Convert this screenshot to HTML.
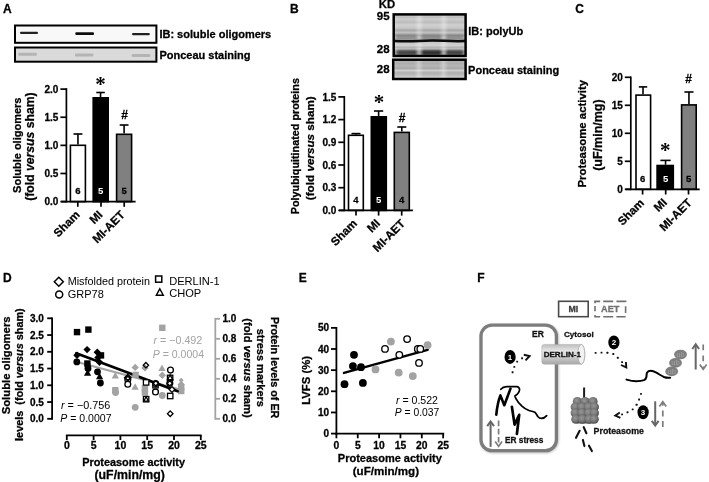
<!DOCTYPE html>
<html lang="en"><head><meta charset="utf-8"><title>Figure</title>
<style>html,body{margin:0;padding:0;background:#fff;}body{width:709px;height:482px;overflow:hidden;}svg{display:block;font-family:"Liberation Sans", Arial, sans-serif;}</style>
</head><body>
<svg width="709" height="482" viewBox="0 0 709 482">
<defs>
<filter id="b1" x="-20%" y="-100%" width="140%" height="300%"><feGaussianBlur stdDeviation="0.7 0.5"/></filter>
<filter id="b2" x="-20%" y="-100%" width="140%" height="300%"><feGaussianBlur stdDeviation="1.2 0.8"/></filter>
<filter id="sh" x="-10%" y="-10%" width="120%" height="120%"><feGaussianBlur stdDeviation="0.9"/></filter>
<filter id="soft" x="-5%" y="-5%" width="110%" height="110%"><feGaussianBlur stdDeviation="0.35"/></filter>
<linearGradient id="cyl" x1="0" y1="0" x2="0" y2="1"><stop offset="0" stop-color="#bcbcbc"/><stop offset="0.3" stop-color="#e4e4e4"/><stop offset="0.6" stop-color="#d2d2d2"/><stop offset="1" stop-color="#a6a6a6"/></linearGradient>
<radialGradient id="sph" cx="0.42" cy="0.38" r="0.62"><stop offset="0" stop-color="#969696"/><stop offset="0.55" stop-color="#7a7a7a"/><stop offset="1" stop-color="#4c4c4c"/></radialGradient>
<linearGradient id="lanes" x1="0" y1="0" x2="1" y2="0">
<stop offset="0" stop-color="#fff" stop-opacity="0.15"/><stop offset="0.06" stop-color="#fff" stop-opacity="0"/>
<stop offset="0.29" stop-color="#fff" stop-opacity="0"/><stop offset="0.355" stop-color="#fff" stop-opacity="0.33"/><stop offset="0.42" stop-color="#fff" stop-opacity="0"/>
<stop offset="0.63" stop-color="#fff" stop-opacity="0"/><stop offset="0.695" stop-color="#fff" stop-opacity="0.33"/><stop offset="0.76" stop-color="#fff" stop-opacity="0"/>
<stop offset="0.95" stop-color="#fff" stop-opacity="0"/><stop offset="1" stop-color="#fff" stop-opacity="0.15"/>
</linearGradient>
<linearGradient id="blotB1" x1="0" y1="0" x2="0" y2="1">
<stop offset="0" stop-color="#cfcfcf"/>
<stop offset="0.07" stop-color="#bebebe"/>
<stop offset="0.11" stop-color="#cecece"/>
<stop offset="0.19" stop-color="#bcbcbc"/>
<stop offset="0.25" stop-color="#d0d0d0"/>
<stop offset="0.33" stop-color="#c6c6c6"/>
<stop offset="0.38" stop-color="#a6a6a6"/>
<stop offset="0.44" stop-color="#c2c2c2"/>
<stop offset="0.50" stop-color="#8e8e8e"/>
<stop offset="0.55" stop-color="#b4b4b4"/>
<stop offset="0.60" stop-color="#a0a0a0"/>
<stop offset="0.68" stop-color="#cacaca"/>
<stop offset="0.75" stop-color="#d0d0d0"/>
<stop offset="0.79" stop-color="#b0b0b0"/>
<stop offset="0.83" stop-color="#c8c8c8"/>
<stop offset="0.88" stop-color="#8a8a8a"/>
<stop offset="0.97" stop-color="#8c8c8c"/>
<stop offset="1" stop-color="#a8a8a8"/>
</linearGradient>
<linearGradient id="blotB2" x1="0" y1="0" x2="0" y2="1">
<stop offset="0" stop-color="#b8b8b8"/>
<stop offset="0.18" stop-color="#acacac"/>
<stop offset="0.32" stop-color="#b6b6b6"/>
<stop offset="0.45" stop-color="#a8a8a8"/>
<stop offset="0.56" stop-color="#cecece"/>
<stop offset="0.66" stop-color="#b2b2b2"/>
<stop offset="0.80" stop-color="#b8b8b8"/>
<stop offset="0.90" stop-color="#d0d0d0"/>
<stop offset="1" stop-color="#c4c4c4"/>
</linearGradient>
</defs>
<rect width="709" height="482" fill="#fff"/>
<text x="3" y="12.9" font-size="12" font-weight="bold" text-anchor="start" fill="#000" stroke="#000" stroke-width="0.28">A</text>
<text x="290.1" y="12.9" font-size="12" font-weight="bold" text-anchor="start" fill="#000" stroke="#000" stroke-width="0.28">B</text>
<text x="575.2" y="12.9" font-size="12" font-weight="bold" text-anchor="start" fill="#000" stroke="#000" stroke-width="0.28">C</text>
<text x="3.1" y="282" font-size="12" font-weight="bold" text-anchor="start" fill="#000" stroke="#000" stroke-width="0.28">D</text>
<text x="298.8" y="282" font-size="12" font-weight="bold" text-anchor="start" fill="#000" stroke="#000" stroke-width="0.28">E</text>
<text x="477.2" y="281.9" font-size="12" font-weight="bold" text-anchor="start" fill="#000" stroke="#000" stroke-width="0.28">F</text>
<rect x="15" y="25.5" width="141.4" height="17.3" fill="#f8f8f8" stroke="#000" stroke-width="2"/>
<rect x="15" y="47.5" width="141.4" height="14.2" fill="#dadada" stroke="#000" stroke-width="2"/>
<rect x="20" y="31.799999999999997" width="18" height="2.2" rx="1" fill="#222" filter="url(#b1)"/>
<rect x="75.3" y="32.2" width="18.700000000000003" height="2.8" rx="1" fill="#111" filter="url(#b1)"/>
<rect x="132" y="33.0" width="17.80000000000001" height="2.2" rx="1" fill="#222" filter="url(#b1)"/>
<rect x="18.3" y="52.7" width="18.599999999999998" height="3" rx="1" fill="#b4b4b4" filter="url(#b1)"/>
<rect x="75" y="53.5" width="18.400000000000006" height="3" rx="1" fill="#b4b4b4" filter="url(#b1)"/>
<rect x="131.7" y="54.0" width="18.600000000000023" height="3" rx="1" fill="#b4b4b4" filter="url(#b1)"/>
<text x="159.4" y="38.1" font-size="11" font-weight="bold" text-anchor="start" fill="#000" stroke="#000" stroke-width="0.28">IB: soluble oligomers</text>
<text x="159.4" y="59.3" font-size="11" font-weight="bold" text-anchor="start" fill="#000" stroke="#000" stroke-width="0.28">Ponceau staining</text>
<line x1="77.95" y1="134" x2="77.95" y2="144.5" stroke="#000" stroke-width="1.6"/>
<line x1="73.5" y1="134" x2="82.4" y2="134" stroke="#000" stroke-width="1.6"/>
<rect x="70.39999999999999" y="145.3" width="15.000000000000009" height="56.3" fill="#fff" stroke="#000" stroke-width="1.6"/>
<line x1="100.55" y1="92.5" x2="100.55" y2="97" stroke="#000" stroke-width="1.6"/>
<line x1="96.3" y1="92.5" x2="104.8" y2="92.5" stroke="#000" stroke-width="1.6"/>
<rect x="93.2" y="97.8" width="14.999999999999995" height="103.8" fill="#000" stroke="#000" stroke-width="1.6"/>
<line x1="124.1" y1="125" x2="124.1" y2="133.5" stroke="#000" stroke-width="1.6"/>
<line x1="119.7" y1="125" x2="128.5" y2="125" stroke="#000" stroke-width="1.6"/>
<rect x="116.6" y="134.3" width="15.000000000000009" height="67.3" fill="#808080" stroke="#000" stroke-width="1.6"/>
<line x1="66.4" y1="88.15" x2="66.4" y2="202.45" stroke="#000" stroke-width="1.7"/>
<line x1="61.05000000000001" y1="201.6" x2="135.6" y2="201.6" stroke="#000" stroke-width="1.7"/>
<line x1="60.400000000000006" y1="201.6" x2="66.4" y2="201.6" stroke="#000" stroke-width="1.7"/>
<text x="58.400000000000006" y="205.2" font-size="10" font-weight="bold" text-anchor="end" fill="#000" stroke="#000" stroke-width="0.28">0.0</text>
<line x1="60.400000000000006" y1="173.48" x2="66.4" y2="173.48" stroke="#000" stroke-width="1.7"/>
<text x="58.400000000000006" y="177.07999999999998" font-size="10" font-weight="bold" text-anchor="end" fill="#000" stroke="#000" stroke-width="0.28">0.5</text>
<line x1="60.400000000000006" y1="145.35999999999999" x2="66.4" y2="145.35999999999999" stroke="#000" stroke-width="1.7"/>
<text x="58.400000000000006" y="148.95999999999998" font-size="10" font-weight="bold" text-anchor="end" fill="#000" stroke="#000" stroke-width="0.28">1.0</text>
<line x1="60.400000000000006" y1="117.24" x2="66.4" y2="117.24" stroke="#000" stroke-width="1.7"/>
<text x="58.400000000000006" y="120.83999999999999" font-size="10" font-weight="bold" text-anchor="end" fill="#000" stroke="#000" stroke-width="0.28">1.5</text>
<line x1="60.400000000000006" y1="89.11999999999999" x2="66.4" y2="89.11999999999999" stroke="#000" stroke-width="1.7"/>
<text x="58.400000000000006" y="92.71999999999998" font-size="10" font-weight="bold" text-anchor="end" fill="#000" stroke="#000" stroke-width="0.28">2.0</text>
<line x1="77.8" y1="201.6" x2="77.8" y2="206.79999999999998" stroke="#000" stroke-width="1.7"/>
<line x1="101" y1="201.6" x2="101" y2="206.79999999999998" stroke="#000" stroke-width="1.7"/>
<line x1="124.2" y1="201.6" x2="124.2" y2="206.79999999999998" stroke="#000" stroke-width="1.7"/>
<text x="80.6" y="215.4" font-size="11.6" font-weight="bold" text-anchor="end" fill="#000" stroke="#000" stroke-width="0.28" transform="rotate(-45 80.6 215.4)">Sham</text>
<text x="103.3" y="215.4" font-size="11.6" font-weight="bold" text-anchor="end" fill="#000" stroke="#000" stroke-width="0.28" transform="rotate(-45 103.3 215.4)">MI</text>
<text x="125.5" y="215.6" font-size="11.6" font-weight="bold" text-anchor="end" fill="#000" stroke="#000" stroke-width="0.28" transform="rotate(-45 125.5 215.6)">MI-AET</text>
<text x="77.8" y="194.3" font-size="9.5" font-weight="bold" text-anchor="middle" fill="#000" stroke="#000" stroke-width="0.28">6</text>
<text x="100.7" y="194.3" font-size="9.5" font-weight="bold" text-anchor="middle" fill="#fff">5</text>
<text x="124.2" y="194.3" font-size="9.5" font-weight="bold" text-anchor="middle" fill="#000" stroke="#000" stroke-width="0.28">5</text>
<text x="100.6" y="90.8" font-family="'Liberation Serif', serif" font-size="21" font-weight="bold" text-anchor="middle" fill="#000">*</text>
<text x="124.5" y="118.6" font-size="12" font-weight="bold" text-anchor="middle" fill="#000" stroke="#000" stroke-width="0.28">#</text>
<text x="20.6" y="145.2" font-size="11" font-weight="bold" text-anchor="middle" fill="#000" stroke="#000" stroke-width="0.28" transform="rotate(-90 20.6 145.2)">Soluble oligomers</text>
<text x="34.2" y="146.6" font-size="12.2" font-weight="bold" text-anchor="middle" fill="#000" stroke="#000" stroke-width="0.28" transform="rotate(-90 34.2 146.6)">(fold <tspan font-style="italic">versus</tspan> sham)</text>
<text x="378.8" y="8.2" font-size="11.3" font-weight="bold" text-anchor="start" fill="#000" stroke="#000" stroke-width="0.28">KD</text>
<text x="376.8" y="20.4" font-size="11.5" font-weight="bold" text-anchor="start" fill="#000" stroke="#000" stroke-width="0.28">95</text>
<text x="376.8" y="52.6" font-size="11.5" font-weight="bold" text-anchor="start" fill="#000" stroke="#000" stroke-width="0.28">28</text>
<text x="376.8" y="73.2" font-size="11.5" font-weight="bold" text-anchor="start" fill="#000" stroke="#000" stroke-width="0.28">28</text>
<rect x="393.7" y="14.4" width="71.9" height="41.6" fill="url(#blotB1)"/>
<rect x="397" y="50.3" width="20.5" height="4.6" rx="2.2" fill="#181818" opacity="0.6" filter="url(#b2)"/>
<rect x="421" y="50.3" width="21" height="4.6" rx="2.2" fill="#181818" opacity="0.8" filter="url(#b2)"/>
<rect x="445.5" y="50.3" width="17.5" height="4.6" rx="2.2" fill="#181818" opacity="0.62" filter="url(#b2)"/>
<rect x="396" y="36.2" width="22" height="2.4" rx="1.2" fill="#222" opacity="0.35" filter="url(#b2)"/>
<rect x="420.5" y="36.2" width="22" height="2.4" rx="1.2" fill="#222" opacity="0.4" filter="url(#b2)"/>
<rect x="445" y="36.2" width="19" height="2.4" rx="1.2" fill="#222" opacity="0.35" filter="url(#b2)"/>
<rect x="393.7" y="14.4" width="71.9" height="41.6" fill="url(#lanes)"/>
<path d="M394 41 Q407 41.6 419 40.9 T444 40.8 T465.5 41" fill="none" stroke="#0a0a0a" stroke-width="2.5"/>
<rect x="393.7" y="14.4" width="71.9" height="41.6" fill="none" stroke="#000" stroke-width="2.5"/>
<rect x="393.2" y="59.7" width="72.4" height="19.3" fill="url(#blotB2)"/>
<rect x="393.2" y="59.7" width="72.4" height="19.3" fill="url(#lanes)"/>
<rect x="393.2" y="59.7" width="72.4" height="19.3" fill="none" stroke="#000" stroke-width="2.5"/>
<text x="468.2" y="35.2" font-size="11" font-weight="bold" text-anchor="start" fill="#000" stroke="#000" stroke-width="0.28">IB: polyUb</text>
<text x="468.1" y="74.3" font-size="11" font-weight="bold" text-anchor="start" fill="#000" stroke="#000" stroke-width="0.28">Ponceau staining</text>
<line x1="356.0" y1="133.6" x2="356.0" y2="134.5" stroke="#000" stroke-width="1.6"/>
<line x1="351.5" y1="133.6" x2="360.5" y2="133.6" stroke="#000" stroke-width="1.6"/>
<rect x="348.5" y="135.3" width="14.800000000000034" height="75.10000000000001" fill="#fff" stroke="#000" stroke-width="1.6"/>
<line x1="378.6" y1="111" x2="378.6" y2="116" stroke="#000" stroke-width="1.6"/>
<line x1="374" y1="111" x2="383.2" y2="111" stroke="#000" stroke-width="1.6"/>
<rect x="371.3" y="116.8" width="15.000000000000023" height="93.60000000000001" fill="#000" stroke="#000" stroke-width="1.6"/>
<line x1="401.8" y1="127" x2="401.8" y2="131.6" stroke="#000" stroke-width="1.6"/>
<line x1="397.3" y1="127" x2="406.3" y2="127" stroke="#000" stroke-width="1.6"/>
<rect x="394.3" y="132.4" width="15.000000000000023" height="78.00000000000001" fill="#808080" stroke="#000" stroke-width="1.6"/>
<line x1="344.3" y1="96.05000000000001" x2="344.3" y2="211.25" stroke="#000" stroke-width="1.7"/>
<line x1="338.95" y1="210.4" x2="412.9" y2="210.4" stroke="#000" stroke-width="1.7"/>
<line x1="338.3" y1="210.4" x2="344.3" y2="210.4" stroke="#000" stroke-width="1.7"/>
<text x="336.3" y="214.0" font-size="10" font-weight="bold" text-anchor="end" fill="#000" stroke="#000" stroke-width="0.28">0.0</text>
<line x1="338.3" y1="187.70000000000002" x2="344.3" y2="187.70000000000002" stroke="#000" stroke-width="1.7"/>
<text x="336.3" y="191.3" font-size="10" font-weight="bold" text-anchor="end" fill="#000" stroke="#000" stroke-width="0.28">0.3</text>
<line x1="338.3" y1="165.0" x2="344.3" y2="165.0" stroke="#000" stroke-width="1.7"/>
<text x="336.3" y="168.6" font-size="10" font-weight="bold" text-anchor="end" fill="#000" stroke="#000" stroke-width="0.28">0.6</text>
<line x1="338.3" y1="142.3" x2="344.3" y2="142.3" stroke="#000" stroke-width="1.7"/>
<text x="336.3" y="145.9" font-size="10" font-weight="bold" text-anchor="end" fill="#000" stroke="#000" stroke-width="0.28">0.9</text>
<line x1="338.3" y1="119.60000000000001" x2="344.3" y2="119.60000000000001" stroke="#000" stroke-width="1.7"/>
<text x="336.3" y="123.2" font-size="10" font-weight="bold" text-anchor="end" fill="#000" stroke="#000" stroke-width="0.28">1.2</text>
<line x1="338.3" y1="96.9" x2="344.3" y2="96.9" stroke="#000" stroke-width="1.7"/>
<text x="336.3" y="100.5" font-size="10" font-weight="bold" text-anchor="end" fill="#000" stroke="#000" stroke-width="0.28">1.5</text>
<line x1="356" y1="210.4" x2="356" y2="215.6" stroke="#000" stroke-width="1.7"/>
<line x1="378.6" y1="210.4" x2="378.6" y2="215.6" stroke="#000" stroke-width="1.7"/>
<line x1="401.7" y1="210.4" x2="401.7" y2="215.6" stroke="#000" stroke-width="1.7"/>
<text x="357.8" y="224.2" font-size="11.6" font-weight="bold" text-anchor="end" fill="#000" stroke="#000" stroke-width="0.28" transform="rotate(-45 357.8 224.2)">Sham</text>
<text x="380.8" y="224" font-size="11.6" font-weight="bold" text-anchor="end" fill="#000" stroke="#000" stroke-width="0.28" transform="rotate(-45 380.8 224)">MI</text>
<text x="405.8" y="224.2" font-size="11.6" font-weight="bold" text-anchor="end" fill="#000" stroke="#000" stroke-width="0.28" transform="rotate(-45 405.8 224.2)">MI-AET</text>
<text x="355.8" y="203" font-size="9.5" font-weight="bold" text-anchor="middle" fill="#000" stroke="#000" stroke-width="0.28">4</text>
<text x="378.7" y="203" font-size="9.5" font-weight="bold" text-anchor="middle" fill="#fff">5</text>
<text x="401.7" y="203" font-size="9.5" font-weight="bold" text-anchor="middle" fill="#000" stroke="#000" stroke-width="0.28">4</text>
<text x="378.9" y="108.9" font-family="'Liberation Serif', serif" font-size="21" font-weight="bold" text-anchor="middle" fill="#000">*</text>
<text x="402" y="121.6" font-size="12" font-weight="bold" text-anchor="middle" fill="#000" stroke="#000" stroke-width="0.28">#</text>
<text x="299.5" y="146.1" font-size="10.8" font-weight="bold" text-anchor="middle" fill="#000" stroke="#000" stroke-width="0.28" transform="rotate(-90 299.5 146.1)">Polyubiquitinated proteins</text>
<text x="314.4" y="148.2" font-size="11.7" font-weight="bold" text-anchor="middle" fill="#000" stroke="#000" stroke-width="0.28" transform="rotate(-90 314.4 148.2)">(fold <tspan font-style="italic">versus</tspan> sham)</text>
<line x1="643.0" y1="86.9" x2="643.0" y2="94.3" stroke="#000" stroke-width="1.6"/>
<line x1="638.8" y1="86.9" x2="647.2" y2="86.9" stroke="#000" stroke-width="1.6"/>
<rect x="636.0" y="95.1" width="14.599999999999932" height="94.20000000000002" fill="#fff" stroke="#000" stroke-width="1.6"/>
<line x1="665.55" y1="160.4" x2="665.55" y2="164.7" stroke="#000" stroke-width="1.6"/>
<line x1="660.4" y1="160.4" x2="670.7" y2="160.4" stroke="#000" stroke-width="1.6"/>
<rect x="657.0999999999999" y="165.5" width="16.200000000000067" height="23.800000000000022" fill="#000" stroke="#000" stroke-width="1.6"/>
<line x1="688.95" y1="92" x2="688.95" y2="104.1" stroke="#000" stroke-width="1.6"/>
<line x1="684.4" y1="92" x2="693.5" y2="92" stroke="#000" stroke-width="1.6"/>
<rect x="681.5999999999999" y="104.89999999999999" width="14.600000000000046" height="84.40000000000002" fill="#808080" stroke="#000" stroke-width="1.6"/>
<line x1="630.8" y1="76.45" x2="630.8" y2="190.15" stroke="#000" stroke-width="1.7"/>
<line x1="625.4499999999999" y1="189.3" x2="699.7" y2="189.3" stroke="#000" stroke-width="1.7"/>
<line x1="624.8" y1="189.3" x2="630.8" y2="189.3" stroke="#000" stroke-width="1.7"/>
<text x="622.8" y="192.9" font-size="10" font-weight="bold" text-anchor="end" fill="#000" stroke="#000" stroke-width="0.28">0</text>
<line x1="624.8" y1="161.3" x2="630.8" y2="161.3" stroke="#000" stroke-width="1.7"/>
<text x="622.8" y="164.9" font-size="10" font-weight="bold" text-anchor="end" fill="#000" stroke="#000" stroke-width="0.28">5</text>
<line x1="624.8" y1="133.3" x2="630.8" y2="133.3" stroke="#000" stroke-width="1.7"/>
<text x="622.8" y="136.9" font-size="10" font-weight="bold" text-anchor="end" fill="#000" stroke="#000" stroke-width="0.28">10</text>
<line x1="624.8" y1="105.30000000000001" x2="630.8" y2="105.30000000000001" stroke="#000" stroke-width="1.7"/>
<text x="622.8" y="108.9" font-size="10" font-weight="bold" text-anchor="end" fill="#000" stroke="#000" stroke-width="0.28">15</text>
<line x1="624.8" y1="77.30000000000001" x2="630.8" y2="77.30000000000001" stroke="#000" stroke-width="1.7"/>
<text x="622.8" y="80.9" font-size="10" font-weight="bold" text-anchor="end" fill="#000" stroke="#000" stroke-width="0.28">20</text>
<line x1="642.6" y1="189.3" x2="642.6" y2="194.5" stroke="#000" stroke-width="1.7"/>
<line x1="665.7" y1="189.3" x2="665.7" y2="194.5" stroke="#000" stroke-width="1.7"/>
<line x1="688.5" y1="189.3" x2="688.5" y2="194.5" stroke="#000" stroke-width="1.7"/>
<text x="644.8" y="203.6" font-size="11.6" font-weight="bold" text-anchor="end" fill="#000" stroke="#000" stroke-width="0.28" transform="rotate(-45 644.8 203.6)">Sham</text>
<text x="667.7" y="203.2" font-size="11.6" font-weight="bold" text-anchor="end" fill="#000" stroke="#000" stroke-width="0.28" transform="rotate(-45 667.7 203.2)">MI</text>
<text x="692.5" y="203.6" font-size="11.6" font-weight="bold" text-anchor="end" fill="#000" stroke="#000" stroke-width="0.28" transform="rotate(-45 692.5 203.6)">MI-AET</text>
<text x="642.6" y="182" font-size="9.5" font-weight="bold" text-anchor="middle" fill="#000" stroke="#000" stroke-width="0.28">6</text>
<text x="665.7" y="182" font-size="9.5" font-weight="bold" text-anchor="middle" fill="#fff">5</text>
<text x="688.6" y="182" font-size="9.5" font-weight="bold" text-anchor="middle" fill="#000" stroke="#000" stroke-width="0.28">5</text>
<text x="665.3" y="157.3" font-family="'Liberation Serif', serif" font-size="21" font-weight="bold" text-anchor="middle" fill="#000">*</text>
<text x="688.7" y="82.6" font-size="12" font-weight="bold" text-anchor="middle" fill="#000" stroke="#000" stroke-width="0.28">#</text>
<text x="586.3" y="133.7" font-size="11.4" font-weight="bold" text-anchor="middle" fill="#000" stroke="#000" stroke-width="0.28" transform="rotate(-90 586.3 133.7)">Proteasome activity</text>
<text x="602" y="135.1" font-size="12.5" font-weight="bold" text-anchor="middle" fill="#000" stroke="#000" stroke-width="0.28" transform="rotate(-90 602 135.1)">(uF/min/mg)</text>
<path d="M58.8 277.2L63.3 281.7L58.8 286.2L54.3 281.7Z" fill="#fff" stroke="#000" stroke-width="1.5"/>
<circle cx="59.2" cy="294.4" r="3.5" fill="#fff" stroke="#000" stroke-width="1.5"/>
<text x="67.7" y="285.4" font-size="10.8" font-weight="normal" text-anchor="start" fill="#000">Misfolded protein</text>
<text x="67.7" y="297.7" font-size="11" font-weight="normal" text-anchor="start" fill="#000">GRP78</text>
<rect x="155.6" y="276" width="6.2" height="6.2" fill="#fff" stroke="#000" stroke-width="1.5"/>
<path d="M159.8 288.8L163.3 295.2L156.3 295.2Z" fill="#fff" stroke="#000" stroke-width="1.4"/>
<text x="169.2" y="285" font-size="11.1" font-weight="normal" text-anchor="start" fill="#000">DERLIN-1</text>
<text x="169.2" y="297.3" font-size="11.1" font-weight="normal" text-anchor="start" fill="#000">CHOP</text>
<line x1="79" y1="362.5" x2="180" y2="389.5" stroke="#a3a3a3" stroke-width="2.3"/>
<rect x="159.10000000000002" y="324.6" width="6.4" height="6.4" fill="#a3a3a3"/>
<path d="M135.2 363.7L138.89999999999998 367.4L135.2 371.09999999999997L131.5 367.4Z" fill="#a3a3a3"/>
<path d="M144.9 364.2L148.6 367.9L144.9 371.59999999999997L141.20000000000002 367.9Z" fill="#a3a3a3"/>
<path d="M162 364.59999999999997L165.6 371.08L158.4 371.08Z" fill="#a3a3a3"/>
<path d="M162.3 371.5L166.0 375.2L162.3 378.9L158.60000000000002 375.2Z" fill="#a3a3a3"/>
<path d="M115.3 371.9L118.89999999999999 378.38L111.7 378.38Z" fill="#a3a3a3"/>
<rect x="112.1" y="387.0" width="6.4" height="6.4" fill="#a3a3a3"/>
<circle cx="115.6" cy="392.5" r="3.4" fill="#a3a3a3"/>
<path d="M135.1 383.2L138.7 389.68L131.5 389.68Z" fill="#a3a3a3"/>
<rect x="141.70000000000002" y="385.3" width="6.4" height="6.4" fill="#a3a3a3"/>
<rect x="141.70000000000002" y="389.3" width="6.4" height="6.4" fill="#a3a3a3"/>
<circle cx="162.3" cy="395.5" r="3.4" fill="#a3a3a3"/>
<circle cx="135.2" cy="407.3" r="3.4" fill="#a3a3a3"/>
<path d="M181.2 380.8L184.89999999999998 384.5L181.2 388.2L177.5 384.5Z" fill="#a3a3a3"/>
<rect x="178.0" y="384.3" width="6.4" height="6.4" fill="#a3a3a3"/>
<rect x="178.0" y="387.8" width="6.4" height="6.4" fill="#a3a3a3"/>
<path d="M181.2 377.7L183.7 380.2L181.2 382.7L178.7 380.2Z" fill="#a3a3a3"/>
<line x1="76.2" y1="353.3" x2="177.6" y2="391.2" stroke="#000" stroke-width="2.7" stroke-linecap="round"/>
<rect x="132.4" y="371.7" width="6.4" height="6.4" fill="#a3a3a3"/>
<rect x="73.8" y="328.90000000000003" width="6.4" height="6.4" fill="#000"/>
<rect x="85.2" y="326.40000000000003" width="6.4" height="6.4" fill="#000"/>
<path d="M87.1 345.90000000000003L90.8 349.6L87.1 353.3L83.39999999999999 349.6Z" fill="#000"/>
<path d="M77 351.5L80.7 355.2L77 358.9L73.3 355.2Z" fill="#000"/>
<circle cx="76.8" cy="361.9" r="3.4" fill="#000"/>
<rect x="97.8" y="352.2" width="6.4" height="6.4" fill="#000"/>
<path d="M97.3 348.6L101.0 352.3L97.3 356.0L93.6 352.3Z" fill="#000"/>
<path d="M99.5 358.6L103.2 362.3L99.5 366.0L95.8 362.3Z" fill="#000"/>
<path d="M98 353.8L101.7 357.5L98 361.2L94.3 357.5Z" fill="#000"/>
<rect x="84.2" y="360.3" width="6.4" height="6.4" fill="#000"/>
<circle cx="88" cy="368.5" r="3.4" fill="#000"/>
<path d="M87.6 369.29999999999995L91.19999999999999 375.78L84.0 375.78Z" fill="#000"/>
<rect x="84.85" y="363.75" width="5.5" height="5.5" fill="#000"/>
<circle cx="97.5" cy="371.8" r="3.4" fill="#000"/>
<path d="M99.6 372.7L103.19999999999999 379.18L96.0 379.18Z" fill="#000"/>
<circle cx="100.4" cy="383" r="3.4" fill="#000"/>
<path d="M127.8 374.5L131.1 377.8L127.8 381.1L124.5 377.8Z" fill="#fff" stroke="#000" stroke-width="1.3"/>
<circle cx="127.8" cy="379.8" r="2.9" fill="none" stroke="#000" stroke-width="1.3"/>
<circle cx="127.8" cy="384.2" r="2.9" fill="#fff" stroke="#000" stroke-width="1.3"/>
<path d="M127.8 375.2L130.4 377.8L127.8 380.40000000000003L125.2 377.8Z" fill="none" stroke="#000" stroke-width="1.3"/>
<path d="M145.9 362.5L148.6 365.2L145.9 367.9L143.20000000000002 365.2Z" fill="none" stroke="#000" stroke-width="1.3"/>
<circle cx="170.5" cy="370.1" r="2.9" fill="#fff" stroke="#000" stroke-width="1.3"/>
<rect x="167.4" y="375.2" width="5.4" height="5.4" fill="#fff" stroke="#000" stroke-width="1.3"/>
<path d="M170.1 374.9L172.7 379.58L167.5 379.58Z" fill="none" stroke="#000" stroke-width="1.3"/>
<circle cx="169.8" cy="383.3" r="2.9" fill="#fff" stroke="#000" stroke-width="1.3"/>
<path d="M169.8 380.7L172.4 383.3L169.8 385.90000000000003L167.20000000000002 383.3Z" fill="none" stroke="#000" stroke-width="1.3"/>
<rect x="143.4" y="379.7" width="5.4" height="5.4" fill="#fff" stroke="#000" stroke-width="1.3"/>
<rect x="152.8" y="382.5" width="5.4" height="5.4" fill="#fff" stroke="#000" stroke-width="1.3"/>
<circle cx="155.7" cy="383.6" r="2.9" fill="#fff" stroke="#000" stroke-width="1.3"/>
<path d="M155.8 380.7L158.4 383.3L155.8 385.90000000000003L153.20000000000002 383.3Z" fill="none" stroke="#000" stroke-width="1.3"/>
<circle cx="155.5" cy="391.9" r="2.9" fill="#fff" stroke="#000" stroke-width="1.3"/>
<path d="M172 386.6L174.9 389.5L172 392.4L169.1 389.5Z" fill="#fff" stroke="#000" stroke-width="1.3"/>
<rect x="167.5" y="393.3" width="5.4" height="5.4" fill="#fff" stroke="#000" stroke-width="1.3"/>
<rect x="143.4" y="396.5" width="5.4" height="5.4" fill="#fff" stroke="#000" stroke-width="1.3"/>
<path d="M146.1 396.9L148.4 401.03999999999996L143.79999999999998 401.03999999999996Z" fill="none" stroke="#000" stroke-width="1.3"/>
<path d="M170.2 410.9L173.0 413.7L170.2 416.5L167.39999999999998 413.7Z" fill="#fff" stroke="#000" stroke-width="1.3"/>
<line x1="52.1" y1="317.4" x2="52.1" y2="419.7" stroke="#000" stroke-width="1.8"/>
<line x1="47.2" y1="418.8" x2="52.1" y2="418.8" stroke="#000" stroke-width="1.8"/>
<text x="43.8" y="422.40000000000003" font-size="10" font-weight="bold" text-anchor="end" fill="#000" stroke="#000" stroke-width="0.28">0.0</text>
<line x1="47.2" y1="402.05" x2="52.1" y2="402.05" stroke="#000" stroke-width="1.8"/>
<text x="43.8" y="405.65000000000003" font-size="10" font-weight="bold" text-anchor="end" fill="#000" stroke="#000" stroke-width="0.28">0.5</text>
<line x1="47.2" y1="385.3" x2="52.1" y2="385.3" stroke="#000" stroke-width="1.8"/>
<text x="43.8" y="388.90000000000003" font-size="10" font-weight="bold" text-anchor="end" fill="#000" stroke="#000" stroke-width="0.28">1.0</text>
<line x1="47.2" y1="368.55" x2="52.1" y2="368.55" stroke="#000" stroke-width="1.8"/>
<text x="43.8" y="372.15000000000003" font-size="10" font-weight="bold" text-anchor="end" fill="#000" stroke="#000" stroke-width="0.28">1.5</text>
<line x1="47.2" y1="351.8" x2="52.1" y2="351.8" stroke="#000" stroke-width="1.8"/>
<text x="43.8" y="355.40000000000003" font-size="10" font-weight="bold" text-anchor="end" fill="#000" stroke="#000" stroke-width="0.28">2.0</text>
<line x1="47.2" y1="335.05" x2="52.1" y2="335.05" stroke="#000" stroke-width="1.8"/>
<text x="43.8" y="338.65000000000003" font-size="10" font-weight="bold" text-anchor="end" fill="#000" stroke="#000" stroke-width="0.28">2.5</text>
<line x1="47.2" y1="318.3" x2="52.1" y2="318.3" stroke="#000" stroke-width="1.8"/>
<text x="43.8" y="321.90000000000003" font-size="10" font-weight="bold" text-anchor="end" fill="#000" stroke="#000" stroke-width="0.28">3.0</text>
<line x1="65.9" y1="435.3" x2="201.7" y2="435.3" stroke="#000" stroke-width="1.8"/>
<line x1="66.8" y1="435.3" x2="66.8" y2="440" stroke="#000" stroke-width="1.8"/>
<text x="66.8" y="448.7" font-size="10.5" font-weight="bold" text-anchor="middle" fill="#000" stroke="#000" stroke-width="0.28">0</text>
<line x1="93.6" y1="435.3" x2="93.6" y2="440" stroke="#000" stroke-width="1.8"/>
<text x="93.6" y="448.7" font-size="10.5" font-weight="bold" text-anchor="middle" fill="#000" stroke="#000" stroke-width="0.28">5</text>
<line x1="120.4" y1="435.3" x2="120.4" y2="440" stroke="#000" stroke-width="1.8"/>
<text x="120.4" y="448.7" font-size="10.5" font-weight="bold" text-anchor="middle" fill="#000" stroke="#000" stroke-width="0.28">10</text>
<line x1="147.2" y1="435.3" x2="147.2" y2="440" stroke="#000" stroke-width="1.8"/>
<text x="147.2" y="448.7" font-size="10.5" font-weight="bold" text-anchor="middle" fill="#000" stroke="#000" stroke-width="0.28">15</text>
<line x1="174.0" y1="435.3" x2="174.0" y2="440" stroke="#000" stroke-width="1.8"/>
<text x="174.0" y="448.7" font-size="10.5" font-weight="bold" text-anchor="middle" fill="#000" stroke="#000" stroke-width="0.28">20</text>
<line x1="200.8" y1="435.3" x2="200.8" y2="440" stroke="#000" stroke-width="1.8"/>
<text x="200.8" y="448.7" font-size="10.5" font-weight="bold" text-anchor="middle" fill="#000" stroke="#000" stroke-width="0.28">25</text>
<line x1="215.3" y1="317.9" x2="215.3" y2="419.7" stroke="#a3a3a3" stroke-width="1.8"/>
<line x1="215.3" y1="418.8" x2="220" y2="418.8" stroke="#a3a3a3" stroke-width="1.8"/>
<text x="222.4" y="422.40000000000003" font-size="10" font-weight="bold" text-anchor="start" fill="#000" stroke="#000" stroke-width="0.28">0.0</text>
<line x1="215.3" y1="398.8" x2="220" y2="398.8" stroke="#a3a3a3" stroke-width="1.8"/>
<text x="222.4" y="402.40000000000003" font-size="10" font-weight="bold" text-anchor="start" fill="#000" stroke="#000" stroke-width="0.28">0.2</text>
<line x1="215.3" y1="378.8" x2="220" y2="378.8" stroke="#a3a3a3" stroke-width="1.8"/>
<text x="222.4" y="382.40000000000003" font-size="10" font-weight="bold" text-anchor="start" fill="#000" stroke="#000" stroke-width="0.28">0.4</text>
<line x1="215.3" y1="358.8" x2="220" y2="358.8" stroke="#a3a3a3" stroke-width="1.8"/>
<text x="222.4" y="362.40000000000003" font-size="10" font-weight="bold" text-anchor="start" fill="#000" stroke="#000" stroke-width="0.28">0.6</text>
<line x1="215.3" y1="338.8" x2="220" y2="338.8" stroke="#a3a3a3" stroke-width="1.8"/>
<text x="222.4" y="342.40000000000003" font-size="10" font-weight="bold" text-anchor="start" fill="#000" stroke="#000" stroke-width="0.28">0.8</text>
<line x1="215.3" y1="318.8" x2="220" y2="318.8" stroke="#a3a3a3" stroke-width="1.8"/>
<text x="222.4" y="322.40000000000003" font-size="10" font-weight="bold" text-anchor="start" fill="#000" stroke="#000" stroke-width="0.28">1.0</text>
<text x="61" y="408.5" font-size="11" font-weight="normal" text-anchor="start" fill="#000" textLength="49.4" lengthAdjust="spacingAndGlyphs"><tspan font-style="italic">r</tspan> = −0.756</text>
<text x="60.3" y="422" font-size="11" font-weight="normal" text-anchor="start" fill="#000" textLength="51.2" lengthAdjust="spacingAndGlyphs"><tspan font-style="italic">P</tspan> = 0.0007</text>
<text x="153.4" y="343.9" font-size="11" font-weight="normal" text-anchor="start" fill="#a3a3a3" textLength="48.9" lengthAdjust="spacingAndGlyphs"><tspan font-style="italic">r</tspan> = −0.492</text>
<text x="152.7" y="357.7" font-size="11" font-weight="normal" text-anchor="start" fill="#a3a3a3" textLength="51.3" lengthAdjust="spacingAndGlyphs"><tspan font-style="italic">P</tspan> = 0.0004</text>
<text x="10.4" y="365.4" font-size="11.3" font-weight="bold" text-anchor="middle" fill="#000" stroke="#000" stroke-width="0.28" transform="rotate(-90 10.4 365.4)">Soluble oligomers</text>
<text x="23.4" y="374.6" font-size="10.85" font-weight="bold" text-anchor="middle" fill="#000" stroke="#000" stroke-width="0.28" transform="rotate(-90 23.4 374.6)" xml:space="preserve">levels  (fold <tspan font-style="italic">versus</tspan> sham)</text>
<text x="133.6" y="465.8" font-size="10.9" font-weight="bold" text-anchor="middle" fill="#000" stroke="#000" stroke-width="0.28">Proteasome activity</text>
<text x="129.7" y="478.5" font-size="12.3" font-weight="bold" text-anchor="middle" fill="#000" stroke="#000" stroke-width="0.28">(uF/min/mg)</text>
<text x="270.9" y="367.7" font-size="10.8" font-weight="bold" text-anchor="middle" fill="#000" stroke="#000" stroke-width="0.28" transform="rotate(90 270.9 367.7)">Protein levels of ER</text>
<text x="257.4" y="367.8" font-size="11" font-weight="bold" text-anchor="middle" fill="#000" stroke="#000" stroke-width="0.28" transform="rotate(90 257.4 367.8)">stress markers</text>
<text x="243.6" y="368" font-size="11.2" font-weight="bold" text-anchor="middle" fill="#000" stroke="#000" stroke-width="0.28" transform="rotate(90 243.6 368)">(fold <tspan font-style="italic">versus</tspan> sham)</text>
<line x1="344" y1="372.9" x2="427.6" y2="349.9" stroke="#000" stroke-width="2.5" stroke-linecap="round"/>
<circle cx="344.5" cy="384.2" r="3.9" fill="#000"/>
<circle cx="352.9" cy="366.1" r="3.9" fill="#000"/>
<circle cx="354" cy="354.8" r="3.9" fill="#000"/>
<circle cx="361" cy="367.2" r="3.9" fill="#000"/>
<circle cx="362.9" cy="382.9" r="3.9" fill="#000"/>
<circle cx="375.5" cy="369.4" r="3.9" fill="#a3a3a3"/>
<circle cx="390.9" cy="341.6" r="3.9" fill="#a3a3a3"/>
<circle cx="398.7" cy="372.6" r="3.9" fill="#a3a3a3"/>
<circle cx="412.8" cy="376.1" r="3.9" fill="#a3a3a3"/>
<circle cx="427.6" cy="345.1" r="3.9" fill="#a3a3a3"/>
<circle cx="385" cy="348.9" r="3.25" fill="#fff" stroke="#000" stroke-width="1.35"/>
<circle cx="399.3" cy="354.8" r="3.25" fill="#fff" stroke="#000" stroke-width="1.35"/>
<circle cx="407.1" cy="339.1" r="3.25" fill="#fff" stroke="#000" stroke-width="1.35"/>
<circle cx="417.8" cy="348.9" r="3.25" fill="#fff" stroke="#000" stroke-width="1.35"/>
<circle cx="420.3" cy="348.9" r="3.25" fill="#fff" stroke="#000" stroke-width="1.35"/>
<circle cx="419" cy="362.9" r="3.25" fill="#fff" stroke="#000" stroke-width="1.35"/>
<line x1="336.4" y1="327" x2="336.4" y2="434.5" stroke="#000" stroke-width="1.8"/>
<line x1="335.5" y1="433.6" x2="444.2" y2="433.6" stroke="#000" stroke-width="1.8"/>
<line x1="331" y1="433.6" x2="336.4" y2="433.6" stroke="#000" stroke-width="1.8"/>
<text x="329.1" y="437.20000000000005" font-size="10" font-weight="bold" text-anchor="end" fill="#000" stroke="#000" stroke-width="0.28">0</text>
<line x1="336.4" y1="433.6" x2="336.4" y2="438.3" stroke="#000" stroke-width="1.8"/>
<text x="336.4" y="449" font-size="10.3" font-weight="bold" text-anchor="middle" fill="#000" stroke="#000" stroke-width="0.28">0</text>
<line x1="331" y1="412.45000000000005" x2="336.4" y2="412.45000000000005" stroke="#000" stroke-width="1.8"/>
<text x="329.1" y="416.05000000000007" font-size="10" font-weight="bold" text-anchor="end" fill="#000" stroke="#000" stroke-width="0.28">10</text>
<line x1="357.75" y1="433.6" x2="357.75" y2="438.3" stroke="#000" stroke-width="1.8"/>
<text x="357.75" y="449" font-size="10.3" font-weight="bold" text-anchor="middle" fill="#000" stroke="#000" stroke-width="0.28">5</text>
<line x1="331" y1="391.3" x2="336.4" y2="391.3" stroke="#000" stroke-width="1.8"/>
<text x="329.1" y="394.90000000000003" font-size="10" font-weight="bold" text-anchor="end" fill="#000" stroke="#000" stroke-width="0.28">20</text>
<line x1="379.09999999999997" y1="433.6" x2="379.09999999999997" y2="438.3" stroke="#000" stroke-width="1.8"/>
<text x="379.09999999999997" y="449" font-size="10.3" font-weight="bold" text-anchor="middle" fill="#000" stroke="#000" stroke-width="0.28">10</text>
<line x1="331" y1="370.15000000000003" x2="336.4" y2="370.15000000000003" stroke="#000" stroke-width="1.8"/>
<text x="329.1" y="373.75000000000006" font-size="10" font-weight="bold" text-anchor="end" fill="#000" stroke="#000" stroke-width="0.28">30</text>
<line x1="400.45" y1="433.6" x2="400.45" y2="438.3" stroke="#000" stroke-width="1.8"/>
<text x="400.45" y="449" font-size="10.3" font-weight="bold" text-anchor="middle" fill="#000" stroke="#000" stroke-width="0.28">15</text>
<line x1="331" y1="349.0" x2="336.4" y2="349.0" stroke="#000" stroke-width="1.8"/>
<text x="329.1" y="352.6" font-size="10" font-weight="bold" text-anchor="end" fill="#000" stroke="#000" stroke-width="0.28">40</text>
<line x1="421.79999999999995" y1="433.6" x2="421.79999999999995" y2="438.3" stroke="#000" stroke-width="1.8"/>
<text x="421.79999999999995" y="449" font-size="10.3" font-weight="bold" text-anchor="middle" fill="#000" stroke="#000" stroke-width="0.28">20</text>
<line x1="331" y1="327.85" x2="336.4" y2="327.85" stroke="#000" stroke-width="1.8"/>
<text x="329.1" y="331.45000000000005" font-size="10" font-weight="bold" text-anchor="end" fill="#000" stroke="#000" stroke-width="0.28">50</text>
<line x1="443.15" y1="433.6" x2="443.15" y2="438.3" stroke="#000" stroke-width="1.8"/>
<text x="443.15" y="449" font-size="10.3" font-weight="bold" text-anchor="middle" fill="#000" stroke="#000" stroke-width="0.28">25</text>
<text x="396" y="403.6" font-size="11" font-weight="normal" text-anchor="start" fill="#000" textLength="42" lengthAdjust="spacingAndGlyphs"><tspan font-style="italic">r</tspan> = 0.522</text>
<text x="394.7" y="416" font-size="11" font-weight="normal" text-anchor="start" fill="#000" textLength="44.6" lengthAdjust="spacingAndGlyphs"><tspan font-style="italic">P</tspan> = 0.037</text>
<text x="310.2" y="380.4" font-size="11.3" font-weight="bold" text-anchor="middle" fill="#000" stroke="#000" stroke-width="0.28" transform="rotate(-90 310.2 380.4)">LVFS (%)</text>
<text x="389.8" y="461.6" font-size="11" font-weight="bold" text-anchor="middle" fill="#000" stroke="#000" stroke-width="0.28">Proteasome activity</text>
<text x="385.9" y="475.3" font-size="11.6" font-weight="bold" text-anchor="middle" fill="#000" stroke="#000" stroke-width="0.28">(uF/min/mg)</text>
<rect x="558.6" y="301.3" width="29.6" height="15.4" fill="none" stroke="#4a4a4a" stroke-width="1.6"/>
<text x="573.4" y="312.4" font-size="8.8" font-weight="bold" text-anchor="middle" fill="#3a3a3a" stroke="#3a3a3a" stroke-width="0.28">MI</text>
<path d="M595 303.2 L595 301.4 L600.2 301.4 M603.2 301.4 L613.2 301.4 M616.4 301.4 L625.6 301.4 L625.6 302 M625.6 306.2 L625.6 313 M625.6 316.7 L616.4 316.7 M613.2 316.7 L603.2 316.7 M600.2 316.7 L595 316.7 L595 315 M595 306 L595 311.2" fill="none" stroke="#707070" stroke-width="1.6"/>
<text x="610.3" y="312" font-size="9.2" font-weight="bold" text-anchor="middle" fill="#707070" stroke="#707070" stroke-width="0.28">AET</text>
<rect x="481.8" y="326" width="75.4" height="125.6" rx="11" ry="11" fill="none" stroke="#8a8a8a" stroke-width="3.2" opacity="0.55" filter="url(#sh)"/>
<rect x="481" y="325.1" width="75.4" height="125.6" rx="11" ry="11" fill="#fff" stroke="#7d7d7d" stroke-width="3.3"/>
<text x="532" y="336.5" font-size="8.5" font-weight="bold" text-anchor="start" fill="#111" stroke="#111" stroke-width="0.28">ER</text>
<text x="564" y="336.9" font-size="8.1" font-weight="bold" text-anchor="start" fill="#111" stroke="#111" stroke-width="0.28">Cytosol</text>
<path d="M544.3 344.4 L581.3 344.4 A3.6 9.9 0 0 1 581.3 364.2 L544.3 364.2 Q541.8 364.2 541.8 361.7 L541.8 346.9 Q541.8 344.4 544.3 344.4Z" fill="url(#cyl)" stroke="#a8a8a8" stroke-width="0.5"/>
<ellipse cx="581.3" cy="354.3" rx="3.5" ry="9.8" fill="#f2f2f2" stroke="#a4a4a4" stroke-width="0.7"/>
<text x="562.3" y="357.2" font-size="8.1" font-weight="bold" text-anchor="middle" fill="#111" stroke="#111" stroke-width="0.28">DERLIN-1</text>
<ellipse cx="510.1" cy="356.9" rx="5.6" ry="7" fill="#000"/>
<text x="510.1" y="359.79999999999995" font-size="8" font-weight="bold" text-anchor="middle" fill="#fff">1</text>
<ellipse cx="613.9" cy="342.4" rx="5.6" ry="7" fill="#000"/>
<text x="613.9" y="345.29999999999995" font-size="8" font-weight="bold" text-anchor="middle" fill="#fff">2</text>
<ellipse cx="643.1" cy="412.2" rx="5.6" ry="7" fill="#000"/>
<text x="643.1" y="415.09999999999997" font-size="8" font-weight="bold" text-anchor="middle" fill="#fff">3</text>
<rect x="511.65000000000003" y="371.35" width="1.9" height="1.9" rx="0.5" fill="#111"/>
<rect x="513.3499999999999" y="365.95" width="1.9" height="1.9" rx="0.5" fill="#111"/>
<rect x="516.25" y="360.65000000000003" width="1.9" height="1.9" rx="0.5" fill="#111"/>
<rect x="521.15" y="357.25" width="1.9" height="1.9" rx="0.5" fill="#111"/>
<path d="M523.8 354.8 L529.6 356 L525.5 360.3" fill="none" stroke="#111" stroke-width="1.9" stroke-linejoin="miter"/>
<rect x="594.65" y="351.95" width="1.9" height="1.9" rx="0.5" fill="#111"/>
<rect x="600.55" y="351.65000000000003" width="1.9" height="1.9" rx="0.5" fill="#111"/>
<rect x="606.4499999999999" y="351.85" width="1.9" height="1.9" rx="0.5" fill="#111"/>
<rect x="612.3499999999999" y="353.05" width="1.9" height="1.9" rx="0.5" fill="#111"/>
<rect x="616.8499999999999" y="356.75" width="1.9" height="1.9" rx="0.5" fill="#111"/>
<rect x="621.15" y="361.15000000000003" width="1.9" height="1.9" rx="0.5" fill="#111"/>
<path d="M625.9 362 L626.3 367.4 L621 365" fill="none" stroke="#111" stroke-width="1.9" stroke-linejoin="miter"/>
<rect x="640.05" y="392.95" width="1.9" height="1.9" rx="0.5" fill="#111"/>
<rect x="638.15" y="398.55" width="1.9" height="1.9" rx="0.5" fill="#111"/>
<rect x="635.65" y="403.85" width="1.9" height="1.9" rx="0.5" fill="#111"/>
<rect x="631.75" y="408.45" width="1.9" height="1.9" rx="0.5" fill="#111"/>
<rect x="626.55" y="411.35" width="1.9" height="1.9" rx="0.5" fill="#111"/>
<rect x="621.15" y="413.45" width="1.9" height="1.9" rx="0.5" fill="#111"/>
<path d="M619.8 412.5 L615.3 415.6 L620.4 417.8" fill="none" stroke="#111" stroke-width="1.9" stroke-linejoin="miter"/>
<path d="M496.3 414.6 Q497.6 402 500.4 395.4 L504.3 405.2 L510.5 388.6" fill="none" stroke="#000" stroke-width="2.6" stroke-linejoin="round" stroke-linecap="round"/>
<path d="M500.8 389.3 C502.5 387.3 504.5 386.7 506.6 386.6 L517.2 386.6 C519.4 387.2 519.8 389.2 519.4 390.6 C518.8 393 517 394.8 514.9 395.9 C515 397 515.6 398.2 516.3 399.2 C517.6 401.8 519.5 404.2 521.6 405.8 C523.6 407.6 526 409.2 528.4 410.2 C530.6 411.2 533 411.4 534.8 412.3 C536.4 413.4 536.8 415.2 537.8 416.5 C538.8 417.7 540 418.4 541.4 418.4 C543.4 418.4 545.4 417.2 546.7 415.6" fill="none" stroke="#000" stroke-width="1.7" stroke-linejoin="round" stroke-linecap="round"/>
<path d="M511.9 406.9 L514.6 424.6 L519.2 414.8 L516.9 433.8" fill="none" stroke="#000" stroke-width="2.7" stroke-linejoin="round" stroke-linecap="round"/>
<line x1="490.6" y1="446.8" x2="490.6" y2="422.5" stroke="#666" stroke-width="2.0"/>
<path d="M487.20000000000005 426.2 L490.6 421.4 L494.0 426.2" fill="none" stroke="#666" stroke-width="2.0" stroke-linejoin="miter"/>
<line x1="498.6" y1="420.6" x2="498.6" y2="445.3" stroke="#7c7c7c" stroke-width="1.7" stroke-dasharray="5.6 2.6"/>
<path d="M495.20000000000005 441.6 L498.6 446.40000000000003 L502.0 441.6" fill="none" stroke="#7c7c7c" stroke-width="1.7" stroke-linejoin="miter"/>
<line x1="695.7" y1="369.5" x2="695.7" y2="345.3" stroke="#666" stroke-width="2.0"/>
<path d="M692.3000000000001 349.0 L695.7 344.2 L699.1 349.0" fill="none" stroke="#666" stroke-width="2.0" stroke-linejoin="miter"/>
<line x1="703.2" y1="344.4" x2="703.2" y2="368.3" stroke="#7c7c7c" stroke-width="1.7" stroke-dasharray="5.8 5.2"/>
<path d="M699.8000000000001 364.6 L703.2 369.40000000000003 L706.6 364.6" fill="none" stroke="#7c7c7c" stroke-width="1.7" stroke-linejoin="miter"/>
<line x1="655.2" y1="401.3" x2="655.2" y2="424.5" stroke="#666" stroke-width="2.0"/>
<path d="M651.8000000000001 420.8 L655.2 425.6 L658.6 420.8" fill="none" stroke="#666" stroke-width="2.0" stroke-linejoin="miter"/>
<line x1="662.8" y1="427" x2="662.8" y2="402.9" stroke="#7c7c7c" stroke-width="1.7" stroke-dasharray="6 4.6"/>
<path d="M659.4 406.59999999999997 L662.8 401.79999999999995 L666.1999999999999 406.59999999999997" fill="none" stroke="#7c7c7c" stroke-width="1.7" stroke-linejoin="miter"/>
<text x="505" y="443.3" font-size="8.3" font-weight="bold" text-anchor="start" fill="#111" stroke="#111" stroke-width="0.28">ER stress</text>
<text x="593.6" y="433.9" font-size="8.8" font-weight="bold" text-anchor="start" fill="#111" stroke="#111" stroke-width="0.28">Proteasome</text>
<path d="M626.5 379.6 C630 380.6 633 381.2 636.3 381.2 C639 381.2 642 381 643.9 380.2 C645.6 379.4 646.2 378.2 646.4 377 C646.7 375.4 646.4 373.8 647 372.7 C647.8 371.4 649.2 370.8 650.8 370.8 C652.8 370.8 654.6 371.7 656.4 372.7 C659 374.1 661.5 375.9 664 377 C666 377.8 668.2 377.9 670.2 377.7" fill="none" stroke="#000" stroke-width="2.0" stroke-linecap="round"/>
<ellipse cx="671.7" cy="371.4" rx="6.4" ry="4.8" fill="#7f7f7f"/>
<text x="671.7" y="373.79999999999995" font-size="7.6" font-weight="normal" text-anchor="middle" fill="#a2a2a2">ub</text>
<ellipse cx="675.5" cy="362.9" rx="6.4" ry="4.8" fill="#7f7f7f"/>
<text x="675.5" y="365.29999999999995" font-size="7.6" font-weight="normal" text-anchor="middle" fill="#a2a2a2">ub</text>
<ellipse cx="680.5" cy="354.5" rx="6.4" ry="4.8" fill="#7f7f7f"/>
<text x="680.5" y="356.9" font-size="7.6" font-weight="normal" text-anchor="middle" fill="#a2a2a2">ub</text>
<line x1="584.1" y1="387.5" x2="584.1" y2="399" stroke="#1a1a1a" stroke-width="2.0"/>
<path d="M574 404 L578 399.5 L592.5 399.5 L596.5 404 L596.5 420 L593 423.5 L577 423.5 L573.5 420Z" fill="#505050"/>
<circle cx="577.4" cy="401.6" r="4.6" fill="url(#sph)"/>
<circle cx="585" cy="401.6" r="4.6" fill="url(#sph)"/>
<circle cx="593" cy="401.6" r="4.6" fill="url(#sph)"/>
<circle cx="575.2" cy="407" r="4.6" fill="url(#sph)"/>
<circle cx="581.9" cy="407" r="4.6" fill="url(#sph)"/>
<circle cx="588.6" cy="407" r="4.6" fill="url(#sph)"/>
<circle cx="594.4" cy="407" r="4.6" fill="url(#sph)"/>
<circle cx="575.2" cy="412.9" r="4.6" fill="url(#sph)"/>
<circle cx="581.9" cy="412.9" r="4.6" fill="url(#sph)"/>
<circle cx="588.6" cy="412.9" r="4.6" fill="url(#sph)"/>
<circle cx="594.4" cy="412.9" r="4.6" fill="url(#sph)"/>
<circle cx="575.8" cy="419.2" r="4.6" fill="url(#sph)"/>
<circle cx="582.4" cy="419.2" r="4.6" fill="url(#sph)"/>
<circle cx="589.2" cy="419.2" r="4.6" fill="url(#sph)"/>
<circle cx="594.2" cy="419.2" r="4.6" fill="url(#sph)"/>
<line x1="579.6" y1="430.8" x2="576" y2="437.8" stroke="#111" stroke-width="2.1" stroke-linecap="round"/>
<line x1="583.7" y1="427.1" x2="586.4" y2="433.2" stroke="#111" stroke-width="2.1" stroke-linecap="round"/>
<line x1="582.9" y1="439.9" x2="584.4" y2="446.1" stroke="#111" stroke-width="2.1" stroke-linecap="round"/>
<line x1="589" y1="445.7" x2="591.9" y2="451.1" stroke="#111" stroke-width="2.1" stroke-linecap="round"/>
</svg>
</body></html>
